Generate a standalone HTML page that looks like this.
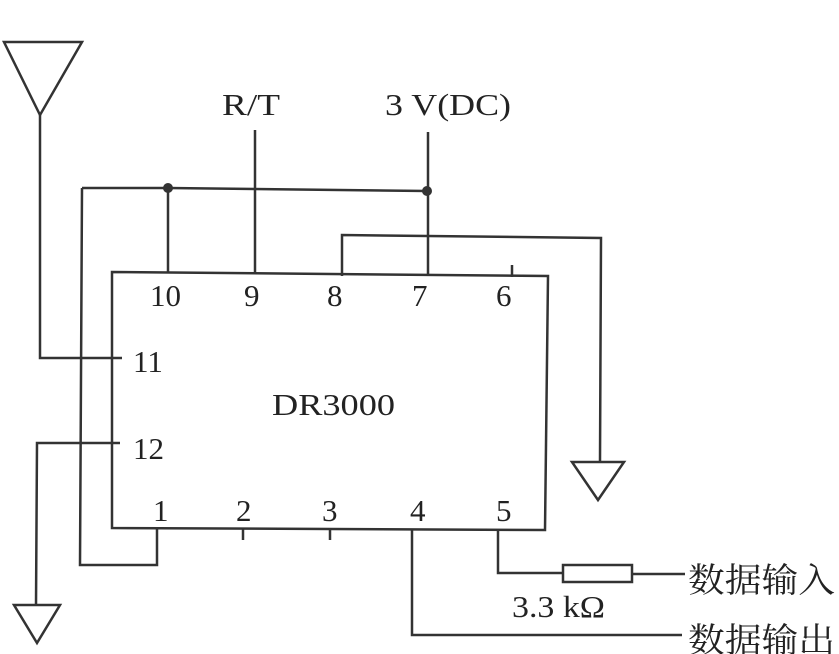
<!DOCTYPE html>
<html><head><meta charset="utf-8"><style>
body{margin:0;background:#fff}
svg{display:block}
text{font-family:"Liberation Serif","Noto Serif CJK SC",serif;fill:#222}
</style></head><body>
<svg width="839" height="654" viewBox="0 0 839 654" xmlns="http://www.w3.org/2000/svg">
<g stroke="#333" stroke-width="2.5" fill="none">
<polygon points="4,42 82,42 40,115"/>
<polyline points="40,115 40,358 122,358"/>
<polygon points="112,272 548,276 545,530 112,528"/>
<polyline points="82,188 168,188 427,191"/>
<polyline points="82,188 80,565 157,565 157,528"/>
<line x1="168" y1="188" x2="168" y2="273"/>
<line x1="255" y1="130" x2="255" y2="274"/>
<line x1="428" y1="132" x2="428" y2="276"/>
<polyline points="342,276 342,235 601,238 600,462"/>
<polygon points="572,462 624,462 598,500"/>
<line x1="512" y1="265" x2="512" y2="277"/>
<polyline points="120,443 37,443 36,605"/>
<polygon points="14,605 60,605 37,643"/>
<line x1="243" y1="528" x2="243" y2="540"/>
<line x1="330" y1="528" x2="330" y2="540"/>
<polyline points="412,529 412,635 682,635"/>
<polyline points="498,529 498,573 563,573"/>
<rect x="563" y="565" width="69" height="17"/>
<line x1="632" y1="574" x2="685" y2="574"/>
</g>
<circle cx="168" cy="188" r="5" fill="#333"/>
<circle cx="427" cy="191" r="5" fill="#333"/>
<g font-size="31">
<text x="222" y="115" textLength="58" lengthAdjust="spacingAndGlyphs">R/T</text>
<text x="385" y="115" textLength="126" lengthAdjust="spacingAndGlyphs">3 V(DC)</text>
<text x="150" y="306">10</text>
<text x="244" y="306">9</text>
<text x="327" y="306">8</text>
<text x="412" y="306">7</text>
<text x="496" y="306">6</text>
<text x="133" y="372">11</text>
<text x="133" y="459">12</text>
<text x="153" y="521">1</text>
<text x="236" y="521">2</text>
<text x="322" y="521">3</text>
<text x="410" y="521">4</text>
<text x="496" y="521">5</text>
<text x="272" y="415" textLength="123" lengthAdjust="spacingAndGlyphs">DR3000</text>
<text x="512" y="617" textLength="93" lengthAdjust="spacingAndGlyphs">3.3 kΩ</text>
<text x="688" y="592" font-size="34" textLength="147" lengthAdjust="spacingAndGlyphs">数据输入</text>
<text x="688" y="652" font-size="34" textLength="147" lengthAdjust="spacingAndGlyphs">数据输出</text>
</g>
</svg>
</body></html>
